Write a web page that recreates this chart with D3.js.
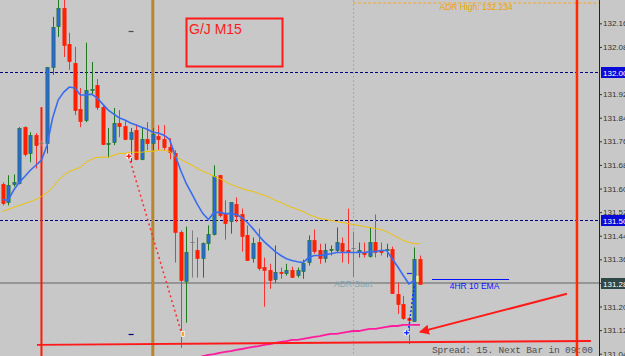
<!DOCTYPE html>
<html>
<head>
<meta charset="utf-8">
<script src="https://cdn.jsdelivr.net/npm/d3@7"></script>
<style>
  body { margin: 0; background: #c8c8c8; }
  svg { display: block; }
</style>
</head>
<body>
<div id="chart"></div>
<script>
const width = 625;
const height = 356;
const plotRight = 599;

// M15 candles, left to right (prices)
const opens = [131.619,131.558,131.619,131.622,131.813,131.724,131.786,131.759,131.759,132.017,
  132.156,132.218,132.095,132.031,131.874,131.837,131.942,131.956,131.881,131.759,
  131.762,131.827,131.816,131.772,131.803,131.704,131.772,131.759,131.782,131.772,
  131.745,131.724,131.459,131.293,131.425,131.398,131.371,131.422,131.449,131.650,
  131.517,131.493,131.554,131.520,131.449,131.371,131.425,131.340,131.330,131.299,
  131.323,131.320,131.330,131.313,131.327,131.354,131.429,131.398,131.371,131.398,
  131.398,131.422,131.398,131.405,131.388,131.391,131.378,131.425,131.398,131.398,
  131.401,131.248,131.214,131.167,131.156,131.367];
const highs = [131.626,131.650,131.653,131.813,131.816,131.796,131.793,131.769,132.017,132.187,
  132.250,132.250,132.133,132.085,131.946,132.099,132.034,131.976,131.888,131.810,
  131.878,131.871,131.837,131.810,131.823,131.813,131.830,131.810,131.820,131.820,
  131.776,131.735,131.463,131.476,131.463,131.439,131.422,131.480,131.684,131.650,
  131.565,131.558,131.575,131.537,131.480,131.439,131.469,131.371,131.350,131.412,
  131.337,131.350,131.340,131.337,131.364,131.446,131.466,131.418,131.418,131.412,
  131.473,131.439,131.537,131.459,131.422,131.422,131.473,131.517,131.422,131.418,
  131.408,131.286,131.241,131.170,131.405,131.378];
const lows = [131.548,131.548,131.612,131.619,131.714,131.694,131.673,131.748,131.724,131.990,
  132.119,132.051,132.007,131.854,131.813,131.830,131.922,131.871,131.752,131.711,
  131.752,131.779,131.769,131.694,131.701,131.701,131.735,131.735,131.735,131.735,
  131.704,131.354,131.065,131.150,131.303,131.303,131.303,131.395,131.446,131.507,
  131.432,131.452,131.490,131.391,131.361,131.354,131.327,131.204,131.265,131.286,
  131.299,131.310,131.303,131.303,131.299,131.344,131.384,131.350,131.354,131.378,
  131.388,131.354,131.350,131.306,131.371,131.371,131.371,131.371,131.378,131.371,
  131.248,131.180,131.160,131.078,131.153,131.283];
const closes = [131.554,131.616,131.626,131.810,131.721,131.786,131.752,131.759,132.017,132.153,
  132.218,132.092,132.037,131.871,131.833,131.939,131.944,131.881,131.755,131.761,
  131.827,131.816,131.772,131.796,131.704,131.772,131.759,131.789,131.772,131.745,
  131.728,131.456,131.296,131.391,131.425,131.371,131.422,131.452,131.646,131.514,
  131.486,131.558,131.514,131.446,131.364,131.422,131.337,131.330,131.296,131.323,
  131.320,131.330,131.306,131.330,131.354,131.429,131.391,131.371,131.398,131.400,
  131.425,131.395,131.391,131.405,131.395,131.384,131.425,131.391,131.391,131.400,
  131.252,131.214,131.167,131.160,131.367,131.283];

// indicator lines
const fastMA = [131.568,131.565,131.599,131.626,131.646,131.667,131.684,131.701,131.752,131.844,
  131.905,131.932,131.949,131.946,131.922,131.922,131.925,131.912,131.891,131.871,
  131.857,131.844,131.837,131.827,131.820,131.813,131.806,131.796,131.793,131.786,
  131.772,131.718,131.667,131.622,131.588,131.551,131.520,131.500,131.524,131.524,
  131.520,131.520,131.517,131.507,131.490,131.469,131.446,131.425,131.408,131.391,
  131.378,131.367,131.361,131.357,131.354,131.371,131.378,131.378,131.381,131.384,
  131.388,131.388,131.388,131.388,131.388,131.388,131.391,131.391,131.395,131.395,
  131.367,131.340,131.310,131.282,131.293];
const slowMA = [131.527,131.534,131.541,131.548,131.554,131.561,131.568,131.578,131.592,131.609,
  131.633,131.650,131.663,131.670,131.677,131.694,131.704,131.711,131.711,131.711,
  131.718,131.724,131.724,131.728,131.728,131.728,131.731,131.731,131.735,131.735,
  131.731,131.714,131.704,131.694,131.684,131.673,131.663,131.656,131.646,131.639,
  131.629,131.619,131.612,131.605,131.599,131.595,131.588,131.582,131.575,131.565,
  131.558,131.548,131.541,131.534,131.527,131.517,131.510,131.503,131.500,131.497,
  131.493,131.490,131.486,131.483,131.480,131.476,131.473,131.469,131.466,131.459,
  131.449,131.439,131.429,131.422,131.418,131.418];
const pinkFrom = 35;
const pinkMA = [131.031,131.037,131.041,131.044,131.048,131.051,131.054,131.058,131.061,131.065,
  131.068,131.071,131.075,131.078,131.082,131.085,131.088,131.092,131.092,131.095,
  131.099,131.102,131.105,131.109,131.112,131.112,131.116,131.119,131.122,131.122,
  131.126,131.129,131.129,131.133,131.136,131.139,131.139,131.143,131.143,131.143,131.143];

const tickValues = [131.045,131.125,131.205,131.285,131.365,131.445,131.525,131.605,
  131.685,131.765,131.845,131.925,132.085,132.165];
const markedLevels = [132.000, 131.500];
const currentPrice = 131.285;
const adrHigh = 132.234;
const adrStartIndex = 63;

const svg = d3.select("#chart")
    .append("svg")
    .attr("width", width)
    .attr("height", height);

const x = d3.scaleLinear().domain([0, 75]).range([2.5, 420]);
const y = d3.scaleLinear().domain([131, 132]).range([367, 72]);

svg.append("rect").attr("width", width).attr("height", height).attr("fill", "#c8c8c8");

svg.append("clipPath").attr("id", "plot")
    .append("rect").attr("width", plotRight).attr("height", height);

const plot = svg.append("g").attr("clip-path", "url(#plot)");
const px = v => Math.round(v) + 0.5;

// horizontal levels
plot.selectAll(".level")
    .data(markedLevels)
    .enter()
    .append("line")
    .attr("x1", 0).attr("x2", plotRight)
    .attr("y1", d => px(y(d))).attr("y2", d => px(y(d)))
    .attr("stroke", "#000080")
    .attr("stroke-dasharray", "3,2");

plot.append("line")
    .attr("x1", 0).attr("x2", plotRight)
    .attr("y1", y(currentPrice)).attr("y2", y(currentPrice))
    .attr("stroke", "#858585").attr("stroke-width", 1.5);

// ADR start + ADR high
plot.append("line")
    .attr("x1", px(x(adrStartIndex))).attr("x2", px(x(adrStartIndex)))
    .attr("y1", 0).attr("y2", height)
    .attr("stroke", "#a9a9a9").attr("stroke-dasharray", "2,2");

plot.append("line")
    .attr("x1", x(adrStartIndex)).attr("x2", plotRight)
    .attr("y1", y(adrHigh)).attr("y2", y(adrHigh))
    .attr("stroke", "#f5a623").attr("stroke-dasharray", "3,2");

plot.append("text")
    .attr("x", (x(adrStartIndex) + plotRight) / 2).attr("y", y(adrHigh) + 7)
    .attr("text-anchor", "middle")
    .attr("font-family", "Liberation Sans, Arial").attr("font-size", 8.5)
    .attr("fill", "#f0a000")
    .text("ADR High: " + adrHigh.toFixed(3));

plot.append("text")
    .attr("x", x(adrStartIndex)).attr("y", y(currentPrice) + 4)
    .attr("text-anchor", "middle")
    .attr("font-family", "Liberation Sans, Arial").attr("font-size", 8.5)
    .attr("fill", "#7fa9b4")
    .text("ADR Start");

// vertical markers
const verticals = [
    { i: 7, from: 131.881, color: "#ff1a00", w: 2 },
    { i: 27, from: 132.3, color: "#b8862e", w: 3 },
    { i: 103.2, from: 132.3, color: "#ff2a00", w: 2.5 }
];
plot.selectAll(".vline")
    .data(verticals)
    .enter()
    .append("line")
    .attr("x1", d => x(d.i)).attr("x2", d => x(d.i))
    .attr("y1", d => y(d.from)).attr("y2", height)
    .attr("stroke", d => d.color)
    .attr("stroke-width", d => d.w);

// candles
const candles = opens.map((o, i) => ({ i, o, h: highs[i], l: lows[i], c: closes[i] }));
const wickColor = d => d.c > d.o ? "#1f7a1f" : d.c < d.o ? "#ff3030" : "#7d7d7d";

const cg = plot.selectAll(".candle")
    .data(candles)
    .enter()
    .append("g")
    .attr("class", "candle");

cg.append("line")
    .attr("x1", d => px(x(d.i))).attr("x2", d => px(x(d.i)))
    .attr("y1", d => y(d.h)).attr("y2", d => y(d.l))
    .attr("stroke", wickColor);

cg.filter(d => d.o !== d.c)
    .append("rect")
    .attr("x", d => px(x(d.i)) - 1.6)
    .attr("width", 3.2)
    .attr("y", d => Math.round(Math.min(y(d.o), y(d.c))) + 0.5)
    .attr("height", d => Math.max(1, Math.round(Math.abs(y(d.o) - y(d.c)))))
    .attr("fill", d => d.c > d.o ? "#2a66e8" : "#ff2200")
    .attr("stroke", d => d.c > d.o ? "#1f7a1f" : "#ff1a00")
    .attr("stroke-width", 0.7);

cg.filter(d => d.o === d.c)
    .append("line")
    .attr("x1", d => px(x(d.i)) - 2).attr("x2", d => px(x(d.i)) + 2)
    .attr("y1", d => px(y(d.o))).attr("y2", d => px(y(d.o)))
    .attr("stroke", "#7d7d7d");

// moving averages
const line = d3.line().x((d, i) => x(i)).y(d => y(d));
plot.append("path").attr("d", line(slowMA))
    .attr("fill", "none").attr("stroke", "#f2c200").attr("stroke-width", 1);
plot.append("path").attr("d", line(fastMA))
    .attr("fill", "none").attr("stroke", "#3a6cf0").attr("stroke-width", 1.6);
plot.append("path")
    .attr("d", d3.line().x((d, i) => x(i + pinkFrom)).y(d => y(d))(pinkMA))
    .attr("fill", "none").attr("stroke", "#ff1a9e").attr("stroke-width", 1.8);

// drawn objects
plot.append("line")
    .attr("x1", x(6.2)).attr("y1", y(131.075))
    .attr("x2", x(105.7)).attr("y2", y(131.088))
    .attr("stroke", "#ff1a1a").attr("stroke-width", 2);

plot.append("line")
    .attr("x1", x(22.7)).attr("y1", y(131.714))
    .attr("x2", x(32.2)).attr("y2", y(131.112))
    .attr("stroke", "#ff2a2a").attr("stroke-width", 1.5)
    .attr("stroke-dasharray", "2,3");

plot.append("line")
    .attr("x1", x(72.9)).attr("y1", y(131.119))
    .attr("x2", x(74)).attr("y2", y(131.282))
    .attr("stroke", "#1030ff").attr("stroke-width", 1.5)
    .attr("stroke-dasharray", "2,2");

const crosses = [
    { i: 22.7, p: 131.714, color: "#ff1a1a" },
    { i: 72.6, p: 131.116, color: "#1030ff" }
];
crosses.forEach(d => {
    const cx = x(d.i), cy = y(d.p);
    plot.append("path")
        .attr("d", `M${cx - 3},${cy}H${cx + 3}M${cx},${cy - 3}V${cy + 3}`)
        .attr("stroke", "#ffffff").attr("stroke-width", 3.5);
    plot.append("path")
        .attr("d", `M${cx - 2.5},${cy}H${cx + 2.5}M${cx},${cy - 2.5}V${cy + 2.5}`)
        .attr("stroke", d.color).attr("stroke-width", 1.5);
});

plot.append("rect")
    .attr("x", x(32.3) - 1).attr("y", y(131.112) - 2.5)
    .attr("width", 3).attr("height", 5)
    .attr("fill", "#f5a030").attr("stroke", "#fff").attr("stroke-width", 0.7);

const dashes = [
    { i: 23.1, p: 132.139, color: "#445544" },
    { i: 23.1, p: 131.112, color: "#000080" },
    { i: 73.1, p: 131.320, color: "#1030ff" }
];
plot.selectAll(".dash")
    .data(dashes)
    .enter()
    .append("line")
    .attr("x1", d => x(d.i) - 2.5).attr("x2", d => x(d.i) + 2.5)
    .attr("y1", d => px(y(d.p))).attr("y2", d => px(y(d.p)))
    .attr("stroke", d => d.color).attr("stroke-width", 1.2);

plot.append("rect")
    .attr("x", x(74.5) - 1).attr("y", y(131.299) - 3)
    .attr("width", 2.5).attr("height", 6)
    .attr("fill", "#f0f09a");

// 4HR 10 EMA marker
const emaLevel = 131.298;
plot.append("line")
    .attr("x1", x(77.15)).attr("x2", x(91))
    .attr("y1", px(y(emaLevel))).attr("y2", px(y(emaLevel)))
    .attr("stroke", "#0010ff").attr("stroke-width", 1.2);
plot.append("text")
    .attr("x", (x(77.15) + x(91)) / 2 + 4).attr("y", y(emaLevel) + 9.5)
    .attr("text-anchor", "middle")
    .attr("font-family", "Liberation Sans, Arial").attr("font-size", 8.5)
    .attr("fill", "#1010ff")
    .text("4HR 10 EMA");

// arrow
svg.append("defs").append("marker")
    .attr("id", "arrow")
    .attr("viewBox", "0 0 10 10")
    .attr("refX", 9).attr("refY", 5)
    .attr("markerWidth", 5).attr("markerHeight", 5)
    .attr("orient", "auto")
    .append("path").attr("d", "M0,0L10,5L0,10z").attr("fill", "#ff1a1a");
plot.append("line")
    .attr("x1", x(101.4)).attr("y1", y(131.248))
    .attr("x2", x(75)).attr("y2", y(131.119))
    .attr("stroke", "#ff1a1a").attr("stroke-width", 2)
    .attr("marker-end", "url(#arrow)");

// symbol label box
svg.append("rect")
    .attr("x", 186.5).attr("y", 18.5).attr("width", 96).attr("height", 48)
    .attr("fill", "none").attr("stroke", "#ff1a1a").attr("stroke-width", 2);
svg.append("text")
    .attr("x", 189).attr("y", 33.5)
    .attr("font-family", "Liberation Sans, Arial").attr("font-size", 14)
    .attr("fill", "#ff1a1a")
    .text("G/J M15");

// price axis
const axis = svg.append("g")
    .attr("transform", `translate(${plotRight},0)`)
    .call(d3.axisRight(y).tickValues(tickValues).tickSize(3).tickPadding(1)
        .tickFormat(d3.format(".3f")));
axis.select(".domain").remove();
axis.selectAll("line").attr("stroke", "#333");
axis.selectAll("text")
    .attr("font-family", "Liberation Sans, Arial").attr("font-size", 8)
    .attr("fill", "#333");

svg.append("line")
    .attr("x1", plotRight + 0.5).attr("x2", plotRight + 0.5)
    .attr("y1", 0).attr("y2", height)
    .attr("stroke", "#222");

const badges = markedLevels.map(p => ({ p, bg: "#0a0ad8" }))
    .concat([{ p: currentPrice, bg: "#2e4848" }]);
const bg = svg.selectAll(".badge")
    .data(badges)
    .enter()
    .append("g");
bg.append("rect")
    .attr("x", plotRight + 2).attr("y", d => Math.round(y(d.p)) - 5)
    .attr("width", width - plotRight).attr("height", 11)
    .attr("fill", d => d.bg);
bg.append("text")
    .attr("x", plotRight + 4).attr("y", d => Math.round(y(d.p)) + 3.5)
    .attr("font-family", "Liberation Sans, Arial").attr("font-size", 8)
    .attr("fill", "#ffffff")
    .text(d => d.p.toFixed(3));

// status text
svg.append("text")
    .attr("x", 432).attr("y", 353)
    .attr("font-family", "Liberation Mono, DejaVu Sans Mono, monospace")
    .attr("font-size", 9.5)
    .attr("textLength", 161)
    .attr("fill", "#505050")
    .text("Spread: 15. Next Bar in 09:00");
</script>
</body>
</html>
